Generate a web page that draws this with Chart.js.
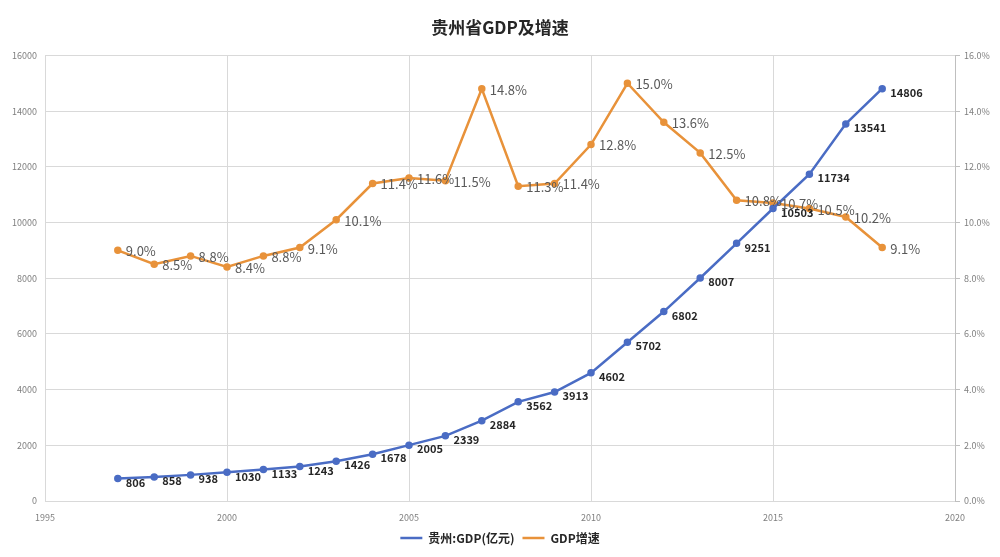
<!DOCTYPE html>
<html>
<head>
<meta charset="utf-8">
<script src="https://cdn.jsdelivr.net/npm/chart.js@4"></script>
<style>
  html, body { margin: 0; padding: 0; background: #fff; }
  #wrap { width: 1000px; height: 557px; }
</style>
</head>
<body>
<div id="wrap"><canvas id="chart"></canvas></div>
<script>
// data
const years = [1997, 1998, 1999, 2000, 2001, 2002, 2003, 2004, 2005, 2006, 2007,
  2008, 2009, 2010, 2011, 2012, 2013, 2014, 2015, 2016, 2017, 2018];
const gdp = [806, 858, 938, 1030, 1133, 1243, 1426, 1678, 2005, 2339, 2884,
  3562, 3913, 4602, 5702, 6802, 8007, 9251, 10503, 11734, 13541, 14806];
const growth = [9.0, 8.5, 8.8, 8.4, 8.8, 9.1, 10.1, 11.4, 11.6, 11.5, 14.8,
  11.3, 11.4, 12.8, 15.0, 13.6, 12.5, 10.8, 10.7, 10.5, 10.2, 9.1];
const seriesNames = ['贵州:GDP(亿元)', 'GDP增速'];

const BLUE = '#4a6cc4';
const ORANGE = '#e8923a';
const FONT = '"Noto Sans CJK SC", "Noto Sans", sans-serif';

// draw value labels next to each point
const valueLabels = {
  id: 'valueLabels',
  afterDatasetsDraw(chart) {
    const ctx = chart.ctx;
    ctx.save();
    ctx.textAlign = 'left';
    ctx.textBaseline = 'middle';
    chart.data.datasets.forEach((ds, i) => {
      const meta = chart.getDatasetMeta(i);
      meta.data.forEach((pt, j) => {
        if (i === 0) {
          ctx.font = '600 11px ' + FONT;
          ctx.fillStyle = '#262626';
          ctx.fillText(String(gdp[j]), pt.x + 8, pt.y + 4);
        } else {
          ctx.font = '13px ' + FONT;
          ctx.fillStyle = '#595959';
          ctx.fillText(growth[j].toFixed(1) + '%', pt.x + 8, pt.y + 1);
        }
      });
    });
    ctx.restore();
  }
};

new Chart(document.getElementById('chart'), {
  type: 'line',
  data: {
    datasets: [
      {
        label: seriesNames[0],
        data: years.map((y, i) => ({x: y, y: gdp[i]})),
        borderColor: BLUE,
        backgroundColor: BLUE,
        borderWidth: 2.5,
        pointRadius: 2.5,
        pointHoverRadius: 2.5,
        yAxisID: 'y'
      },
      {
        label: seriesNames[1],
        data: years.map((y, i) => ({x: y, y: growth[i]})),
        borderColor: ORANGE,
        backgroundColor: ORANGE,
        borderWidth: 2.5,
        pointRadius: 2.5,
        pointHoverRadius: 2.5,
        yAxisID: 'y1'
      }
    ]
  },
  options: {
    responsive: true,
    maintainAspectRatio: false,
    animation: false,
    layout: {padding: {left: 0, right: 0, top: 0, bottom: 3}},
    plugins: {
      title: {
        display: true,
        text: '贵州省GDP及增速',
        color: '#262626',
        font: {family: FONT, size: 17, weight: 'bold'},
        padding: {top: 17, bottom: 18}
      },
      legend: {
        position: 'bottom',
        labels: {
          color: '#262626',
          font: {family: FONT, size: 12, weight: 'bold'},
          usePointStyle: true,
          pointStyle: 'line',
          pointStyleWidth: 22,
          boxHeight: 2,
          padding: 8
        }
      },
      tooltip: {enabled: false}
    },
    scales: {
      x: {
        type: 'linear',
        min: 1995,
        max: 2020,
        ticks: {
          stepSize: 5,
          color: '#7f7f7f',
          font: {family: FONT, size: 9},
          padding: 11,
          callback: v => String(v)
        },
        grid: {color: '#d9d9d9', drawTicks: false},
        border: {display: false},
        afterFit: s => { s.height = 23; }
      },
      y: {
        position: 'left',
        min: 0,
        max: 16000,
        ticks: {
          stepSize: 2000,
          color: '#7f7f7f',
          font: {family: FONT, size: 9},
          padding: 8,
          callback: v => String(v)
        },
        grid: {color: '#d9d9d9', drawTicks: false},
        border: {display: false},
        afterFit: s => { s.width = 45; }
      },
      y1: {
        position: 'right',
        min: 0,
        max: 16,
        ticks: {
          stepSize: 2,
          color: '#7f7f7f',
          font: {family: FONT, size: 9},
          padding: 4,
          callback: v => v.toFixed(1) + '%'
        },
        grid: {drawOnChartArea: false, color: '#bfbfbf', tickLength: 5},
        border: {display: true, color: '#bfbfbf'},
        afterFit: s => { s.width = 45; }
      }
    }
  },
  plugins: [valueLabels]
});
</script>
</body>
</html>
